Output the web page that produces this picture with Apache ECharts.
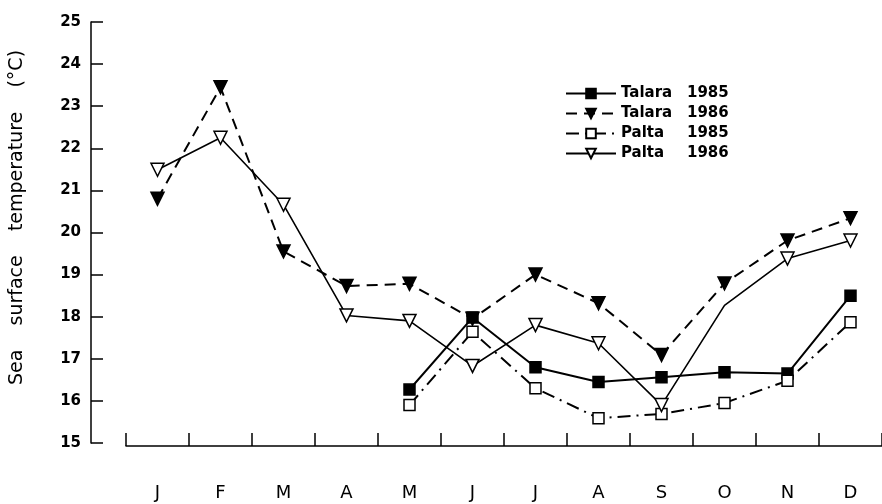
<!DOCTYPE html>
<html>
<head>
<meta charset="utf-8">
<script src="https://cdn.jsdelivr.net/npm/echarts@6/dist/echarts.min.js"></script>
<style>
  html, body { margin: 0; padding: 0; background: #fff; }
  #main { width: 882px; height: 504px; }
</style>
</head>
<body>
<div id="main"></div>
<script>
// months and sea surface temperature readings (°C)
const months = ['J', 'F', 'M', 'A', 'M', 'J', 'J', 'A', 'S', 'O', 'N', 'D']
const talara1985 = [null, null, null, null, 16.27, 17.98, 16.8, 16.45, 16.56, 16.68, 16.65, 18.5]
const talara1986 = [20.8, 23.45, 19.55, 18.73, 18.78, 17.95, 19.0, 18.32, 17.09, 18.79, 19.81, 20.34]
const palta1985 = [null, null, null, null, 15.9, 17.64, 16.3, 15.59, 15.69, 15.95, 16.48, 17.87]
const palta1986 = [21.49, 22.25, 20.66, 18.03, 17.9, 16.83, 17.8, 17.37, 15.9, 18.27, 19.38, 19.81]
const seriesNames = ['Talara 1985', 'Talara 1986', 'Palta 1985', 'Palta 1986']

const font = 'DejaVu Sans'
const chart = echarts.init(document.getElementById('main'))

function mk(name, data, opts) {
  return Object.assign({
    name: name,
    type: 'line',
    data: data,
    symbolSize: 11,
    itemStyle: { color: '#000', borderColor: '#000', borderWidth: 1.5 },
    lineStyle: { color: '#000', width: 2 },
    emphasis: { disabled: true },
    animation: false
  }, opts)
}

// Palta 1986 has no marker drawn in October
const palta86Data = palta1986.map((v, i) => i === 9 ? { value: v, symbol: 'none' } : v)

const option = {
  backgroundColor: '#fff',
  grid: { left: 126, top: 22, width: 760, height: 421 },
  legend: {
    left: 560,
    top: 81,
    orient: 'vertical',
    itemWidth: 50,
    itemHeight: 12,
    itemGap: 5,
    data: seriesNames,
    formatter: name => {
      const p = name.split(' ')
      return '{n|' + p[0] + '}{y|' + p[1] + '}'
    },
    textStyle: {
      fontFamily: font, fontSize: 15, fontWeight: 'bold', color: '#000',
      rich: {
        n: { fontFamily: font, fontSize: 15, fontWeight: 'bold', width: 66 },
        y: { fontFamily: font, fontSize: 15, fontWeight: 'bold' }
      }
    }
  },
  xAxis: {
    type: 'category',
    data: months,
    boundaryGap: true,
    offset: 3,
    axisLine: { lineStyle: { color: '#000', width: 1.5 } },
    axisTick: { show: true, interval: 0, inside: true, length: 13, lineStyle: { color: '#000', width: 1.5 } },
    axisLabel: { margin: 38, fontFamily: font, fontSize: 18, color: '#000' },
    splitLine: { show: false }
  },
  yAxis: {
    type: 'value',
    min: 15,
    max: 25,
    interval: 1,
    offset: 35,
    name: 'Sea    surface    temperature    (°C)',
    nameLocation: 'middle',
    nameGap: 64,
    nameTextStyle: { fontFamily: font, fontSize: 19, color: '#000', padding: [0, 0, 0, 30] },
    axisLine: { show: true, lineStyle: { color: '#000', width: 1.5 } },
    axisTick: { show: true, inside: true, length: 12, lineStyle: { color: '#000', width: 1.5 } },
    axisLabel: { margin: 10, fontFamily: font, fontSize: 15, fontWeight: 'bold', color: '#000' },
    splitLine: { show: false }
  },
  series: [
    mk(seriesNames[0], talara1985, {
      symbol: 'rect'
    }),
    mk(seriesNames[1], talara1986, {
      symbol: 'triangle',
      symbolRotate: 180,
      symbolSize: 13,
      lineStyle: { color: '#000', width: 2, type: [11, 7] }
    }),
    mk(seriesNames[2], palta1985, {
      symbol: 'rect',
      itemStyle: { color: '#fff', borderColor: '#000', borderWidth: 1.5 },
      lineStyle: { color: '#000', width: 2, type: [13, 6, 2, 6] }
    }),
    mk(seriesNames[3], palta86Data, {
      symbol: 'triangle',
      symbolRotate: 180,
      symbolSize: 13,
      itemStyle: { color: '#fff', borderColor: '#000', borderWidth: 1.5 },
      lineStyle: { color: '#000', width: 1.6 }
    })
  ]
}
chart.setOption(option)
</script>
</body>
</html>
